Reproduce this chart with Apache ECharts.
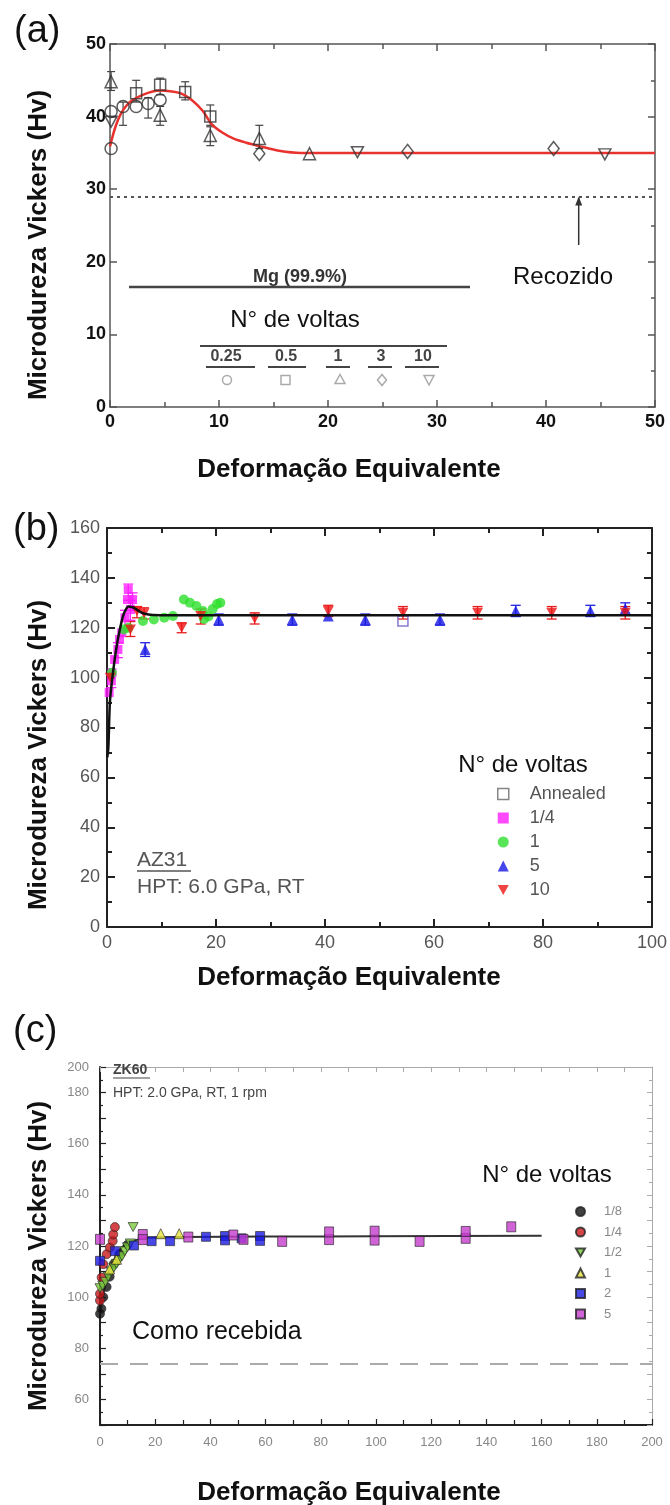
<!DOCTYPE html>
<html><head><meta charset="utf-8">
<script src="https://cdn.jsdelivr.net/npm/echarts@6/dist/echarts.min.js"></script>
<style>
html,body{margin:0;padding:0;background:#fff;}
.p{position:absolute;left:0;width:670px;}
#a{top:0;height:500px;} #b{top:500px;height:500px;} #c{top:1000px;height:505px;}
</style></head><body>
<div id="a" class="p"></div><div id="b" class="p"></div><div id="c" class="p"></div>
<script>
// ---------------- DATA ----------------
// Panel (a) Mg 99.9%
const aXLabels = ['0','10','20','30','40','50'];
const aYLabels = ['0','10','20','30','40','50'];
const aTurns = ['0.25','0.5','1','3','10'];
const a025X = [0.1, 0.1, 1.2, 2.4, 3.5, 4.6];
const a025Y = [35.6, 40.7, 41.4, 41.4, 41.8, 42.3];
const a05X = [2.4, 4.6, 6.9, 9.2];
const a05Y = [43.2, 44.4, 43.4, 40.0];
const a1X = [0.1, 4.6, 9.2, 13.7, 18.3];
const a1Y = [44.8, 40.2, 37.4, 37.0, 34.9];
const a3X = [13.7, 27.3, 40.7];
const a3Y = [34.9, 35.2, 35.6];
const a10X = [0.1, 22.7, 45.4];
const a10Y = [39.3, 35.1, 34.8];
const aErr = [[0.1,43.6,46.2],[1.2,38.8,42.0],[2.4,42.0,45.0],[3.5,39.8,42.6],[4.6,43.0,45.3],[4.6,38.8,41.4],[6.9,42.3,44.8],[9.2,38.8,41.6],[9.2,36.0,38.6],[13.7,35.6,38.8]];
const aFitX = [0, 0.5, 1, 1.5, 2, 3, 4, 4.6, 5.5, 6.5, 7.5, 8.5, 9.3, 10.3, 11.3, 12.5, 13.8, 15.5, 17.5, 20, 50];
const aFitY = [35.9, 38.6, 40.4, 41.5, 42.2, 43.0, 43.5, 43.6, 43.5, 43.2, 42.3, 40.8, 39.0, 37.8, 37.0, 36.4, 35.9, 35.3, 35.0, 35.0, 35.0];
const aAnnealedHv = 29;
const aArrowX = 43, aArrowFrom = 22.3, aArrowTo = 28.8;

// Panel (b) AZ31
const bXLabels = ['0','20','40','60','80','100'];
const bYLabels = ['0','20','40','60','80','100','120','140','160'];
const bNames = ['Annealed','1/4','1','5','10'];
const bAnnX = [54.3];
const bAnnY = [122.7];
const b14X = [0.4,0.8,0.9,1.4,2.0,2.3,2.7,3.3,3.75,3.9,4.3,4.7];
const b14Y = [94,98.7,102,107.3,111.3,115.3,118,124,131.3,135.3,127.3,131.3];
const b1X = [0.9,3.1,3.9,6.6,8.6,10.5,12.1,14.1,15.2,16.4,17.6,18.6,17.8,19.4,20.2,20.8];
const b1Y = [102,119.3,120,122.7,123.3,124,124.7,131.3,130,128.7,126.7,124.5,123.5,127.5,129.5,130];
const b5X = [7.0,20.5,34,40.6,47.4,61.1,75,88.7,95.1];
const b5Y = [111.3,123.3,123.3,124.7,123.3,123.3,126.7,126.7,127.6];
const b10X = [0.6,4.3,5.5,6.8,13.7,17.2,27.1,40.6,54.3,68,81.6,95.1];
const b10Y = [100,119.3,126.7,125.8,120,124.7,123.7,126.7,126,126,126,126];
const bErr14 = [[3.9,131,137.5],[4.3,123,131],[4.7,127,134],[3.3,120,127],[2.0,108,114],[0.8,96,101]];
const bErr10 = [[4.3,116.5,122.5],[5.5,124,128.5],[6.8,123.5,128],[13.7,118,122],[17.2,121.5,127.5],[27.1,121.5,126],[40.6,124.5,129],[54.3,123.5,128.5],[68,123.5,128.5],[81.6,123.5,128.5],[95.1,123.5,128.5]];
const bErr5 = [[7.0,108.5,114],[20.5,121,125.5],[34,121,125.5],[47.4,121,125.5],[61.1,121,125.5],[75,124.5,129],[88.7,124.5,129],[95.1,125,130]];
const bFitX = [0.05,0.25,0.55,1.15,1.75,2.4,3.0,3.5,3.9,4.5,5.1,6.0,6.6,8.4,12,100];
const bFitY = [68,72,90.7,102.9,112.3,119.8,125.1,127.5,128.5,128.3,127.8,126.5,125.8,125.1,125,125];

// Panel (c) ZK60
const cXLabels = ['0','20','40','60','80','100','120','140','160','180','200'];
const cYTickLabels = ['', '60', '', '80', '', '100', '', '120', '', '140', '', '160', '', '180', '200'];
const cNames = ['1/8','1/4','1/2','1','2','5'];
const c18X = [0, 0.5, 1.2, 2.4, 3.5, 5, 7, 10];
const c18Y = [93.5, 95.5, 100, 104, 108, 113, 117, 120.5];
const c14X = [0, 0, 0.6, 1.2, 2.4, 3.6, 4.6, 4.8, 5.4];
const c14Y = [98.7, 101.3, 107.7, 112.9, 116.8, 119.4, 122, 124.5, 127.4];
const c12X = [0, 1, 2, 3, 4, 5, 6, 7, 8, 9, 10, 11, 12];
const c12Y = [103.5, 104.5, 106, 108, 110, 111.5, 113, 114.5, 116, 118, 119.5, 121, 127.4];
const c1X = [3.5, 6, 22, 28.7];
const c1Y = [111, 114.8, 124.8, 124.8];
const c2X = [0, 5.4, 12.3, 18.7, 25.4, 38.4, 45.3, 45.3, 51.3, 58, 58];
const c2Y = [114.2, 118, 120.2, 121.9, 121.9, 123.6, 123.9, 122.2, 123, 123.9, 122];
const c5X = [0, 15.5, 15.5, 32, 48.3, 52, 66, 83, 83, 99.5, 99.5, 115.8, 132.5, 132.5, 149];
const c5Y = [122.6, 124.5, 122.5, 123.5, 124.3, 122.6, 121.8, 122.5, 125.5, 122.3, 125.8, 121.8, 123.0, 125.7, 127.5];
const cFitX = [0, 1, 2, 3, 4, 5, 6, 8, 10, 13, 16, 20, 30, 60, 100, 160];
const cFitY = [93, 100, 105, 109, 112, 114.5, 116.5, 119.5, 121, 122.3, 123, 123.3, 123.5, 123.7, 123.8, 124];
const cAsReceivedHv = 74;

// ---------------- HELPERS ----------------
const FONT = '"Liberation Sans", Arial, sans-serif';
const INV_TRI = 'path://M0,0 L10,0 L5,9 Z';
function pairs(xs, ys){ return xs.map((x,i)=>[x, ys[i]]); }
function txt(x, y, text, o){
  o = o || {};
  return {type:'text', x:x, y:y, rotation:o.rot||0, scaleX:o.sx||1, scaleY:o.sy||1, z:100,
    style:{text:text, x:0, y:0, fill:o.color||'#111',
      font:(o.weight||'normal')+' '+(o.size||20)+'px '+FONT,
      textAlign:o.align||'center', textVerticalAlign:o.va||'middle'}};
}
function ln(x1,y1,x2,y2,color,w){ return {type:'line', z:100, shape:{x1,y1,x2,y2}, style:{stroke:color||'#333', lineWidth:w||1.5}}; }
function errSeries(data, color, lw, cap){
  return {type:'custom', data:data, z:1, silent:true, encode:{x:0, y:[1,2]},
    renderItem:function(params, api){
      const x=api.value(0), lo=api.value(1), hi=api.value(2);
      const p1=api.coord([x,lo]), p2=api.coord([x,hi]); const w=cap||4;
      const st={stroke:color, lineWidth:lw||1.2};
      return {type:'group', children:[
        {type:'line', shape:{x1:p1[0],y1:p1[1],x2:p2[0],y2:p2[1]}, style:st},
        {type:'line', shape:{x1:p1[0]-w,y1:p1[1],x2:p1[0]+w,y2:p1[1]}, style:st},
        {type:'line', shape:{x1:p2[0]-w,y1:p2[1],x2:p2[0]+w,y2:p2[1]}, style:st}]};
    }};
}
function axis(o){
  return {type:'value', min:o.min, max:o.max, interval:o.interval, position:o.pos, gridIndex:0,
    axisLine:{show:true, onZero:false, lineStyle:{color:o.color, width:o.w}},
    axisTick:{show:true, inside:true, length:o.tick||6, lineStyle:{color:o.color, width:o.tw||o.w}},
    minorTick:{show:!!o.minor, splitNumber:o.minor||2, length:o.mtick||4, lineStyle:{color:o.color, width:o.tw||o.w}},
    axisLabel:o.label ? Object.assign({show:true, fontFamily:FONT, hideOverlap:false, showMinLabel:true, showMaxLabel:true}, o.label) : {show:false},
    splitLine:{show:false}, minorSplitLine:{show:false}};
}

// ---------------- PANEL A ----------------
const symA = {color:'rgba(255,255,255,0)', borderColor:'#333', borderWidth:1.5};
const legA = [];
(function(){
  const labX = [226, 286, 338, 381, 423];
  const ulX = [[206,255],[268,306],[326,350],[368,392],[405,439]];
  const g = '#aaa';
  aTurns.forEach((t,i)=>{
    legA.push(txt(labX[i], 357, t, {size:16, weight:'bold', color:'#444'}));
    legA.push(ln(ulX[i][0], 367, ulX[i][1], 367, '#444', 2));
  });
  const cy = 380;
  legA.push({type:'circle', z:100, shape:{cx:227, cy:cy, r:4.5}, style:{fill:'none', stroke:g, lineWidth:1.5}});
  legA.push({type:'rect', z:100, shape:{x:281, y:cy-4.5, width:9, height:9}, style:{fill:'none', stroke:g, lineWidth:1.5}});
  legA.push({type:'polygon', z:100, shape:{points:[[340,cy-5.5],[345,cy+3.5],[335,cy+3.5]]}, style:{fill:'none', stroke:g, lineWidth:1.5}});
  legA.push({type:'polygon', z:100, shape:{points:[[382,cy-5.5],[386.5,cy],[382,cy+5.5],[377.5,cy]]}, style:{fill:'none', stroke:g, lineWidth:1.5}});
  legA.push({type:'polygon', z:100, shape:{points:[[424,cy-4.5],[434,cy-4.5],[429,cy+5]]}, style:{fill:'none', stroke:g, lineWidth:1.5}});
})();

const optA = {
  animation:false,
  grid:{left:110, right:15, top:44, height:363, show:false},
  xAxis:[
    axis({min:0,max:50,interval:10,pos:'bottom',color:'#555',w:1.5,tick:7,minor:2,mtick:5,
      label:{color:'#111',fontWeight:'bold',fontSize:18,margin:6,formatter:(v,i)=>aXLabels[Math.round(v/10)]}}),
    axis({min:0,max:50,interval:10,pos:'top',color:'#555',w:1.5,tick:7,minor:2,mtick:5})
  ],
  yAxis:[
    axis({min:0,max:50,interval:10,pos:'left',color:'#555',w:1.5,tick:7,
      label:{color:'#111',fontWeight:'bold',fontSize:18,margin:4,formatter:(v,i)=>aYLabels[Math.round(v/10)]}}),
    axis({min:0,max:50,interval:10,pos:'right',color:'#555',w:1.5,tick:7,minor:2,mtick:4})
  ],
  series:[
    {type:'line', name:'fit', data:pairs(aFitX,aFitY), smooth:0.35, symbol:'none', z:2,
      lineStyle:{color:'#e8322d', width:2.5},
      markLine:{silent:true, symbol:'none', label:{show:false}, animation:false,
        lineStyle:{color:'#555', width:2, type:[3,4]}, data:[{yAxis:aAnnealedHv}]}},
    errSeries(aErr, '#444', 1.2, 4),
    {type:'scatter', name:aTurns[0], data:pairs(a025X,a025Y), symbol:'circle', symbolSize:12, itemStyle:symA, z:3},
    {type:'scatter', name:aTurns[1], data:pairs(a05X,a05Y), symbol:'rect', symbolSize:11, itemStyle:symA, z:3},
    {type:'scatter', name:aTurns[2], data:pairs(a1X,a1Y), symbol:'triangle', symbolSize:[12,12], itemStyle:symA, z:3},
    {type:'scatter', name:aTurns[3], data:pairs(a3X,a3Y), symbol:'diamond', symbolSize:[11,14], itemStyle:symA, z:3},
    {type:'scatter', name:aTurns[4], data:pairs(a10X,a10Y), symbol:INV_TRI, symbolSize:[12,11], itemStyle:symA, z:3},
    {type:'line', name:'arrow', data:[[aArrowX,aArrowFrom],[aArrowX,aArrowTo]], symbol:'none', z:4, silent:true,
      lineStyle:{color:'#333', width:1.5},
      markPoint:{silent:true, symbol:'triangle', symbolSize:[7,9], symbolOffset:[0,3], label:{show:false},
        itemStyle:{color:'#333'}, data:[{coord:[aArrowX,aArrowTo]}]}}
  ],
  graphic:[
    txt(14, 32, '(a)', {size:38, align:'left'}),
    txt(39, 245, 'Microdureza Vickers (Hv)', {size:26, weight:'bold', rot:Math.PI/2}),
    txt(349, 470, 'Deformação Equivalente', {size:26, weight:'bold'}),
    txt(563, 277, 'Recozido', {size:24}),
    txt(300, 277, 'Mg (99.9%)', {size:18, weight:'bold', color:'#333'}),
    ln(129, 287, 470, 287, '#444', 2.5),
    txt(295, 320, 'N° de voltas', {size:24}),
    ln(200, 346, 447, 346, '#444', 2)
  ].concat(legA)
};

// ---------------- PANEL B ----------------
const optB = {
  animation:false,
  grid:{left:107, right:16, top:28, height:399, show:false},
  xAxis:[
    axis({min:0,max:100,interval:20,pos:'bottom',color:'#222',w:2,tick:8,minor:2,mtick:5,
      label:{color:'#555',fontSize:18,margin:7,formatter:(v)=>bXLabels[Math.round(v/20)]}}),
    axis({min:0,max:100,interval:20,pos:'top',color:'#222',w:2,tick:8,minor:2,mtick:5})
  ],
  yAxis:[
    axis({min:0,max:160,interval:20,pos:'left',color:'#222',w:2,tick:8,minor:2,mtick:5,
      label:{color:'#555',fontSize:18,margin:7,formatter:(v)=>bYLabels[Math.round(v/20)]}}),
    axis({min:0,max:160,interval:20,pos:'right',color:'#222',w:2,tick:8,minor:2,mtick:5})
  ],
  legend:{orient:'vertical', left:492, top:280, itemWidth:11, itemHeight:11, itemGap:6,
    textStyle:{color:'#555', fontSize:18, fontFamily:FONT, padding:[0,0,0,16]},
    data:[{name:bNames[0], itemStyle:{color:'#fff', borderColor:'#666', borderWidth:1.5}}, bNames[1], bNames[2], bNames[3], bNames[4]]},
  series:[
    errSeries(bErr14, '#ff22ff', 1.3, 5),
    errSeries(bErr10, '#e81c1c', 1.3, 5),
    errSeries(bErr5, '#2020e0', 1.3, 5),
    {type:'scatter', name:bNames[0], data:pairs(bAnnX,bAnnY), symbol:'rect', symbolSize:10, z:3,
      itemStyle:{color:'rgba(255,255,255,0)', borderColor:'#6a55c8', borderWidth:1.5}},
    {type:'scatter', name:bNames[1], data:pairs(b14X,b14Y), symbol:'rect', symbolSize:9, z:3, itemStyle:{color:'#ff1cff'}},
    {type:'scatter', name:bNames[2], data:pairs(b1X,b1Y), symbol:'circle', symbolSize:10, z:3, itemStyle:{color:'#2ee02e'}},
    {type:'scatter', name:bNames[3], data:pairs(b5X,b5Y), symbol:'triangle', symbolSize:11, z:3, itemStyle:{color:'#1717e6'}},
    {type:'scatter', name:bNames[4], data:pairs(b10X,b10Y), symbol:INV_TRI, symbolSize:[11,10], z:3, itemStyle:{color:'#ee1414'}},
    {type:'line', name:'fitB', data:pairs(bFitX,bFitY), smooth:0.3, symbol:'none', z:4, lineStyle:{color:'#111', width:2.5}}
  ],
  graphic:[
    txt(13, 30, '(b)', {size:38, align:'left'}),
    txt(39, 255, 'Microdureza Vickers (Hv)', {size:26, weight:'bold', rot:Math.PI/2}),
    txt(349, 478, 'Deformação Equivalente', {size:26, weight:'bold'}),
    txt(523, 265, 'N° de voltas', {size:24}),
    txt(137, 360, 'AZ31', {size:21, align:'left', color:'#555'}),
    ln(137, 371, 191, 371, '#555', 1.5),
    txt(137, 387, 'HPT: 6.0 GPa, RT', {size:21, align:'left', color:'#555'})
  ]
};

// ---------------- PANEL C ----------------
const edge = {borderColor:'#222', borderWidth:0.8};
const optC = {
  animation:false,
  grid:{left:100, right:18, top:67, height:358, show:false},
  xAxis:[
    axis({min:0,max:200,interval:20,pos:'bottom',color:'#222',w:2,tick:6,minor:2,mtick:5,tw:1.2,
      label:{color:'#888',fontSize:13,margin:11,formatter:(v)=>cXLabels[Math.round(v/20)]}}),
    axis({min:0,max:200,interval:20,pos:'top',color:'#aaa',w:1,tick:5,minor:2,mtick:5})
  ],
  yAxis:[
    axis({min:50,max:190,interval:10,pos:'left',color:'#222',w:2,tick:6,minor:2,mtick:3,tw:1.2,
      label:{color:'#888',fontSize:13,margin:11,formatter:(v)=>cYTickLabels[Math.round((v-50)/10)]}}),
    axis({min:50,max:190,interval:10,pos:'right',color:'#aaa',w:1,tick:5,minor:2,mtick:3})
  ],
  legend:{orient:'vertical', left:570, top:200, itemWidth:9, itemHeight:9, itemGap:7.5,
    textStyle:{color:'#888', fontSize:13, fontFamily:FONT, padding:[0,0,0,14]},
    data:cNames},
  series:[
    {type:'line', name:'fitC', data:pairs(cFitX,cFitY), smooth:0.3, symbol:'none', z:2, lineStyle:{color:'#333', width:2},
      markLine:{silent:true, symbol:'none', label:{show:false}, animation:false,
        lineStyle:{color:'#aaa', width:2, type:[18,12]}, data:[{yAxis:cAsReceivedHv}]}},
    {type:'scatter', name:cNames[0], data:pairs(c18X,c18Y), symbol:'circle', symbolSize:9, z:3, itemStyle:Object.assign({color:'#111'},edge)},
    {type:'scatter', name:cNames[1], data:pairs(c14X,c14Y), symbol:'circle', symbolSize:9, z:3, itemStyle:Object.assign({color:'#c8161c'},edge)},
    {type:'scatter', name:cNames[2], data:pairs(c12X,c12Y), symbol:INV_TRI, symbolSize:[10,9], z:3, itemStyle:Object.assign({color:'#7acb3a'},edge)},
    {type:'scatter', name:cNames[3], data:pairs(c1X,c1Y), symbol:'triangle', symbolSize:10, z:3, itemStyle:Object.assign({color:'#e6e23c'},edge)},
    {type:'scatter', name:cNames[4], data:pairs(c2X,c2Y), symbol:'rect', symbolSize:9, z:3, itemStyle:Object.assign({color:'#1a1ae0'},edge)},
    {type:'scatter', name:cNames[5], data:pairs(c5X,c5Y), symbol:'rect', symbolSize:[9,10], z:3, itemStyle:Object.assign({color:'#c43ccc'},edge)}
  ],
  graphic:[
    txt(13, 32, '(c)', {size:38, align:'left'}),
    txt(39, 256, 'Microdureza Vickers (Hv)', {size:26, weight:'bold', rot:Math.PI/2}),
    txt(349, 493, 'Deformação Equivalente', {size:26, weight:'bold'}),
    txt(547, 175, 'N° de voltas', {size:24}),
    txt(113, 70, 'ZK60', {size:14, weight:'bold', align:'left', color:'#444'}),
    ln(113, 78, 150, 78, '#444', 1.2),
    txt(113, 93, 'HPT: 2.0 GPa, RT, 1 rpm', {size:14, align:'left', color:'#444'}),
    txt(132, 332, 'Como recebida', {size:25, align:'left'})
  ]
};

echarts.init(document.getElementById('a'), null, {renderer:'canvas'}).setOption(optA);
echarts.init(document.getElementById('b'), null, {renderer:'canvas'}).setOption(optB);
echarts.init(document.getElementById('c'), null, {renderer:'canvas'}).setOption(optC);
</script>
</body></html>
